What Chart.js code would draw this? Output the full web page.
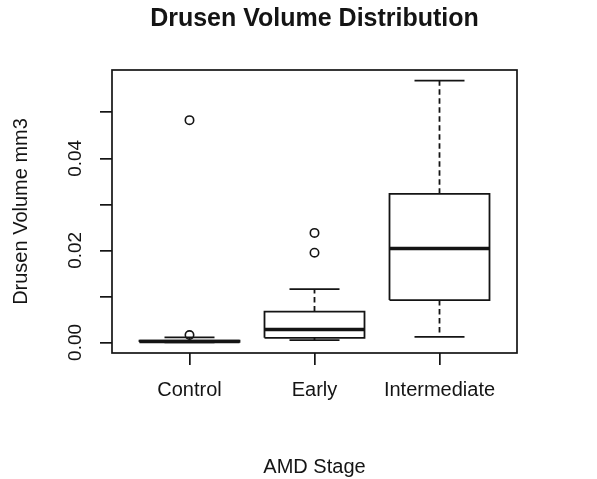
<!DOCTYPE html>
<html>
<head>
<meta charset="utf-8">
<title>Drusen Volume Distribution</title>
<script src="https://cdn.jsdelivr.net/npm/chart.js@4/dist/chart.umd.min.js"></script>
<style>
    body { margin: 0; background: #ffffff; }
    #wrap { width: 597px; height: 479px; }
</style>
</head>
<body>
<div id="wrap"><canvas id="myChart" width="597" height="479"></canvas></div>
<script>
/**
 * Box plot of drusen volume per AMD stage.
 */

// categories and box statistics (mm3)
const categories = ["Control", "Early", "Intermediate"];
const whiskerLow = [0.0000, 0.0005, 0.0012];
const lowerQuartile = [0.0001, 0.0010, 0.0092];
const medians = [0.0002, 0.0028, 0.0204];
const upperQuartile = [0.0004, 0.0067, 0.0323];
const whiskerHigh = [0.0011, 0.0116, 0.0569];
const outliers = [[0.0483, 0.0016], [0.0238, 0.0195], []];

// y axis ticks, R only labels every second one
const yTicks = [0, 0.01, 0.02, 0.03, 0.04, 0.05];
const yTickLabels = ["0.00", "", "0.02", "", "0.04", ""];

const INK = "#141414";
const BOX_HALF = 0.4;
const STAPLE_HALF = 0.2;

Chart.defaults.font.family = "'Liberation Sans', Arial, sans-serif";
Chart.defaults.color = INK;

function segment(x1, y1, x2, y2, width, dash) {
    return {
        data: [{x: x1, y: y1}, {x: x2, y: y2}],
        showLine: true,
        borderColor: INK,
        borderWidth: width,
        borderDash: dash || [],
        borderCapStyle: "butt",
        pointRadius: 0,
        pointHoverRadius: 0
    };
}

let datasets = [];
for (let i = 0; i < categories.length; i++) {
    let x = i + 1;
    // whiskers (dashed) and staples
    datasets.push(segment(x, upperQuartile[i], x, whiskerHigh[i], 1.8, [5.5, 3.5]));
    datasets.push(segment(x, lowerQuartile[i], x, whiskerLow[i], 1.8, [5.5, 3.5]));
    datasets.push(segment(x - STAPLE_HALF, whiskerHigh[i], x + STAPLE_HALF, whiskerHigh[i], 1.8));
    datasets.push(segment(x - STAPLE_HALF, whiskerLow[i], x + STAPLE_HALF, whiskerLow[i], 1.8));
    // box outline
    datasets.push({
        data: [
            {x: x - BOX_HALF, y: lowerQuartile[i]},
            {x: x + BOX_HALF, y: lowerQuartile[i]},
            {x: x + BOX_HALF, y: upperQuartile[i]},
            {x: x - BOX_HALF, y: upperQuartile[i]},
            {x: x - BOX_HALF, y: lowerQuartile[i]}
        ],
        showLine: true,
        borderColor: INK,
        borderWidth: 1.8,
        borderJoinStyle: "miter",
        pointRadius: 0,
        pointHoverRadius: 0
    });
    // median
    datasets.push(segment(x - BOX_HALF, medians[i], x + BOX_HALF, medians[i], 3.6));
}

// outlier points
let outlierPoints = [];
for (let i = 0; i < outliers.length; i++) {
    for (let j = 0; j < outliers[i].length; j++) {
        outlierPoints.push({x: i + 1, y: outliers[i][j]});
    }
}
datasets.push({
    data: outlierPoints,
    showLine: false,
    pointStyle: "circle",
    pointRadius: 4.2,
    pointHoverRadius: 4.2,
    pointBorderWidth: 1.6,
    pointBorderColor: INK,
    pointBackgroundColor: "rgba(0,0,0,0)"
});

// R draws a full box round the plot region
const frame = {
    id: "frame",
    afterDatasetsDraw(chart) {
        const a = chart.chartArea;
        const ctx = chart.ctx;
        ctx.save();
        ctx.strokeStyle = INK;
        ctx.lineWidth = 1.7;
        ctx.strokeRect(a.left, a.top, a.right - a.left, a.bottom - a.top);
        ctx.restore();
    }
};

new Chart("myChart", {
    type: "scatter",
    data: { datasets: datasets },
    plugins: [frame],
    options: {
        responsive: false,
        animation: false,
        layout: { padding: { left: 0, right: 80, top: 0, bottom: 0 } },
        plugins: {
            legend: { display: false },
            tooltip: { enabled: false },
            title: {
                display: true,
                text: "Drusen Volume Distribution",
                fullSize: false,
                color: INK,
                font: { size: 25, weight: "bold" },
                padding: { top: 4, bottom: 36 }
            }
        },
        scales: {
            x: {
                type: "linear",
                min: 0.38,
                max: 3.62,
                afterBuildTicks: (scale) => {
                    scale.ticks = categories.map((c, i) => ({ value: i + 1 }));
                },
                afterFit: (scale) => { scale.height = 126; },
                border: { display: false },
                grid: {
                    drawOnChartArea: false,
                    drawTicks: true,
                    tickLength: 12,
                    color: INK,
                    lineWidth: 1.7
                },
                ticks: {
                    autoSkip: false,
                    maxRotation: 0,
                    padding: 13.5,
                    color: INK,
                    font: { size: 20 },
                    callback: (value) => categories[value - 1]
                },
                title: {
                    display: true,
                    text: "AMD Stage",
                    color: INK,
                    font: { size: 20 },
                    padding: { top: 0, bottom: 0 }
                }
            },
            y: {
                type: "linear",
                min: -0.0023,
                max: 0.0592,
                afterBuildTicks: (scale) => {
                    scale.ticks = yTicks.map((v) => ({ value: v }));
                },
                afterFit: (scale) => { scale.width = 112; },
                border: { display: false },
                grid: {
                    drawOnChartArea: false,
                    drawTicks: true,
                    tickLength: 12,
                    color: INK,
                    lineWidth: 1.7
                },
                ticks: {
                    minRotation: 90,
                    maxRotation: 90,
                    crossAlign: "center",
                    padding: 6,
                    color: INK,
                    font: { size: 19 },
                    callback: (value, index) => yTickLabels[index]
                },
                title: {
                    display: true,
                    text: "Drusen Volume mm3",
                    color: INK,
                    font: { size: 20 },
                    padding: { top: 9, bottom: 0 }
                }
            }
        }
    }
});
</script>
</body>
</html>
